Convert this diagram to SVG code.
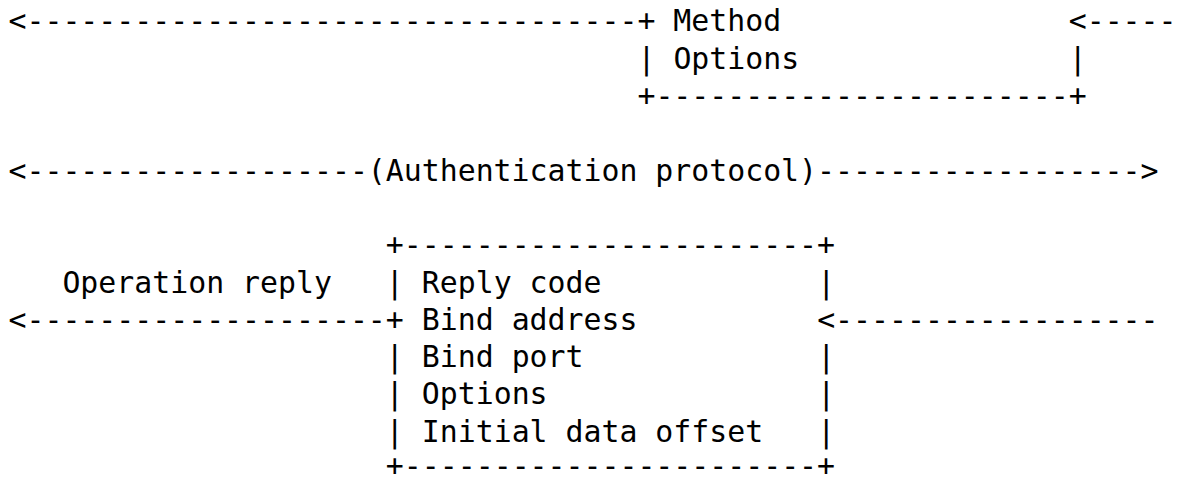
<svg xmlns="http://www.w3.org/2000/svg" width="1183" height="483" viewBox="0 0 1183 483">
<style>
text{font-family:"DejaVu Sans Mono","Liberation Mono",monospace;font-size:29.85px;fill:#000;white-space:pre}
</style>
<rect width="1183" height="483" fill="#fff"/>
<g id="connectors">
<text x="8.5" y="31.4">&lt;----------------------------------</text>
<text x="1068.73" y="31.4">&lt;-----</text>
<text x="8.5" y="180.6">&lt;-------------------(Authentication protocol)------------------&gt;</text>
<text x="62.41" y="292.5">Operation reply</text>
<text x="8.5" y="329.8">&lt;--------------------</text>
<text x="817.15" y="329.8">&lt;------------------</text>
</g>
<g id="node-method">
<text x="637.45" y="31.4">+ Method</text>
<text x="637.45" y="68.7">|</text>
<text x="673.39" y="68.7">Options</text>
<text x="1068.73" y="68.7">|</text>
<text x="637.45" y="106.0">+-----------------------+</text>
</g>
<g id="node-reply">
<text x="385.87" y="255.2">+-----------------------+</text>
<text x="385.87" y="292.5">|</text>
<text x="421.81" y="292.5">Reply code</text>
<text x="817.15" y="292.5">|</text>
<text x="385.87" y="329.8">+</text>
<text x="421.81" y="329.8">Bind address</text>
<text x="385.87" y="367.1">|</text>
<text x="421.81" y="367.1">Bind port</text>
<text x="817.15" y="367.1">|</text>
<text x="385.87" y="404.4">|</text>
<text x="421.81" y="404.4">Options</text>
<text x="817.15" y="404.4">|</text>
<text x="385.87" y="441.7">|</text>
<text x="421.81" y="441.7">Initial data offset</text>
<text x="817.15" y="441.7">|</text>
<text x="385.87" y="475.8">+-----------------------+</text>
</g>
</svg>
